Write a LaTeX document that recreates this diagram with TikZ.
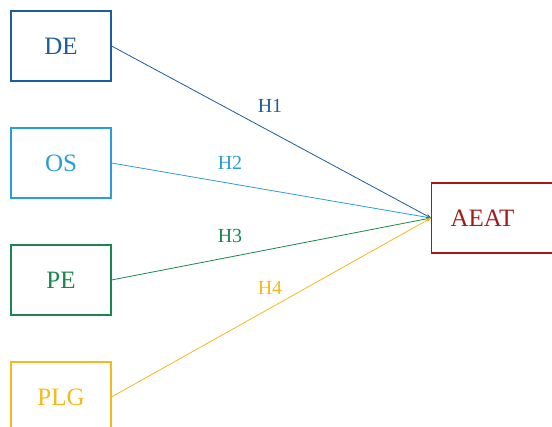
\documentclass[tikz,border=0pt]{standalone}
\usepackage{fontspec}
\setmainfont{Liberation Serif}
\usetikzlibrary{arrows.meta}
\definecolor{cDE}{HTML}{1A5E9E}
\definecolor{cOS}{HTML}{2A9ED8}
\definecolor{cPE}{HTML}{1A8650}
\definecolor{cPLG}{HTML}{F6B81C}
\definecolor{cAE}{HTML}{A31A1A}
\tikzset{
  box/.style={draw, line width=1.1pt, minimum width=100pt, minimum height=70pt, inner sep=0pt, font=\fontsize{25}{25}\selectfont},
  conn/.style={line width=0.8pt, -{Stealth[length=5pt,width=4pt]}},
  hlab/.style={font=\fontsize{20}{20}\selectfont, inner sep=0pt}
}
\begin{document}
\begin{tikzpicture}[x=1pt,y=-1pt]
\useasboundingbox (0,0) rectangle (552,427);
\clip (0,0) rectangle (552,427);
\node[box, draw=cDE, text=cDE] (DE) at (61,46) {DE};
\node[box, draw=cOS, text=cOS] (OS) at (61,163) {OS};
\node[box, draw=cPE, text=cPE] (PE) at (61,280) {PE};
\node[box, draw=cPLG, text=cPLG] (PLG) at (61,397) {PLG};
\node[box, draw=cAE, text=cAE, anchor=west, minimum width=140pt, inner xsep=19pt, text width=102pt, align=left] (AEAT) at (431,218) {AEAT};
\draw[conn, cDE] (DE.east) -- (AEAT.west);
\draw[conn, cOS] (OS.east) -- (AEAT.west);
\draw[conn, cPE] (PE.east) -- (AEAT.west);
\draw[conn, cPLG] (PLG.east) -- (AEAT.west);
\node[hlab, text=cDE] (H1) at (270,106) {H1};
\node[hlab, text=cOS] (H2) at (230,163) {H2};
\node[hlab, text=cPE] (H3) at (230,236) {H3};
\node[hlab, text=cPLG] (H4) at (270,288) {H4};
\end{tikzpicture}
\end{document}
